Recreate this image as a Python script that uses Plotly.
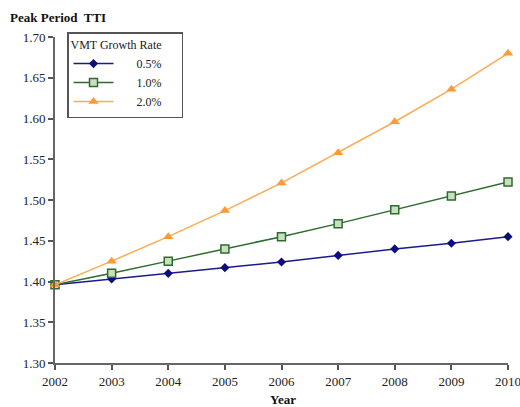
import plotly.graph_objects as go

years = [2002, 2003, 2004, 2005, 2006, 2007, 2008, 2009, 2010]
rate_05 = [1.396, 1.403, 1.410, 1.417, 1.424, 1.432, 1.440, 1.447, 1.455]
rate_10 = [1.396, 1.410, 1.425, 1.440, 1.455, 1.471, 1.488, 1.505, 1.522]
rate_20 = [1.396, 1.425, 1.455, 1.487, 1.521, 1.558, 1.596, 1.636, 1.680]
series_names = ["0.5%", "1.0%", "2.0%"]
y_ticks = [1.30, 1.35, 1.40, 1.45, 1.50, 1.55, 1.60, 1.65, 1.70]

font_serif = "Liberation Serif, Times New Roman, serif"
pad = "\u00a0" * 6
tail = "\u00a0" * 5

fig = go.Figure()
fig.add_trace(go.Scatter(x=years, y=rate_05, name=pad + series_names[0] + tail, mode="lines+markers",
                         line=dict(color="#1a1a8c", width=1.5),
                         marker=dict(symbol="diamond", size=7, color="#0d0d80"),
                         cliponaxis=False))
fig.add_trace(go.Scatter(x=years, y=rate_10, name=pad + series_names[1] + tail, mode="lines+markers",
                         line=dict(color="#2f6b2f", width=1.5),
                         marker=dict(symbol="square", size=8, color="#c8e0c0",
                                     line=dict(color="#2f6b2f", width=1.5)),
                         cliponaxis=False))
fig.add_trace(go.Scatter(x=years, y=rate_20, name=pad + series_names[2] + tail, mode="lines+markers",
                         line=dict(color="#ffaa55", width=1.5),
                         marker=dict(symbol="triangle-up", size=9, color="#ff9933"),
                         cliponaxis=False))

L, R, T, B = 55, 12, 37, 44
W, H = 520, 407
plot_w = W - L - R
plot_h = H - T - B

fig.update_layout(
    width=W, height=H,
    margin=dict(l=L, r=R, t=T, b=B, autoexpand=False),
    paper_bgcolor="white", plot_bgcolor="white",
    font=dict(family=font_serif, size=13, color="#222"),
    showlegend=True,
    legend=dict(x=(67 - L) / plot_w, y=(H - B - 32) / plot_h, xanchor="left", yanchor="top",
                bgcolor="white", bordercolor="#555", borderwidth=1.5,
                title=dict(text="VMT Growth Rate", font=dict(size=12, family=font_serif)),
                font=dict(size=12, family=font_serif),
                itemwidth=40, tracegroupgap=0),
    xaxis=dict(range=[2002, 2010], tickvals=years, ticks="outside", ticklen=5,
               tickcolor="#555", tickwidth=1.5, showline=True, linecolor="#666",
               linewidth=2, showgrid=False, zeroline=False, automargin=False,
               ticklabeloverflow="allow",
               tickfont=dict(size=13, family=font_serif)),
    yaxis=dict(range=[1.30, 1.70], tickvals=y_ticks, tickformat=".2f", ticks="outside",
               ticklen=5, tickcolor="#555", tickwidth=1.5, showline=True,
               linecolor="#666", linewidth=2, showgrid=False, zeroline=False,
               automargin=False, ticklabeloverflow="allow",
               tickfont=dict(size=13, family=font_serif)),
    annotations=[
        dict(text="<b>Peak Period  TTI</b>", x=(8 - L) / plot_w, y=(H - B - 18) / plot_h,
             xref="paper", yref="paper", showarrow=False,
             font=dict(size=13, family=font_serif, color="#111"),
             xanchor="left", yanchor="middle"),
        dict(text="<b>Year</b>", x=(283 - L) / plot_w, y=-(399 - (H - B)) / plot_h,
             xref="paper", yref="paper", showarrow=False,
             font=dict(size=13, family=font_serif, color="#111"),
             xanchor="center", yanchor="middle"),
    ],
)

fig.write_html("out.html", config={"displayModeBar": False},
               post_script="document.body.style.margin='0';")
